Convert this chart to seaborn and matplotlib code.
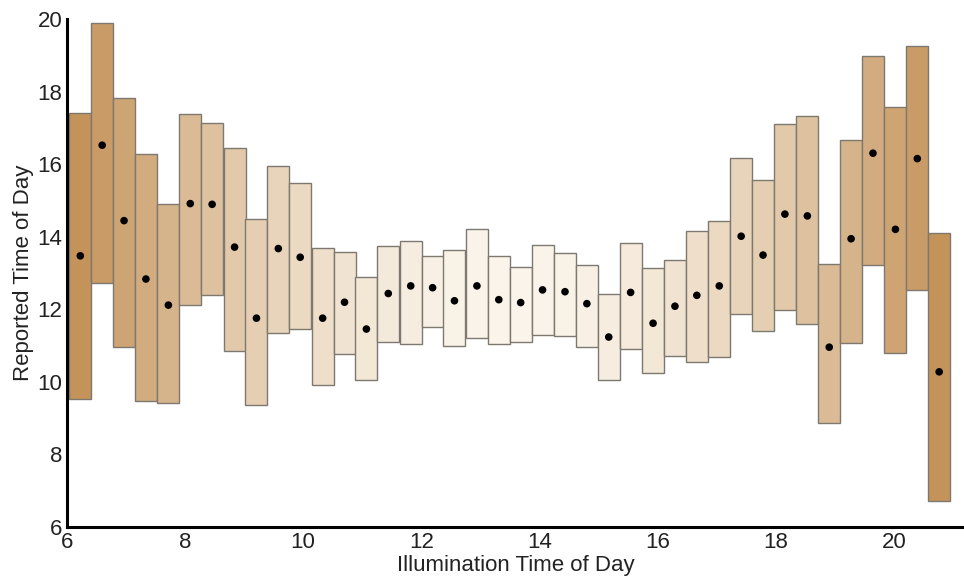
import numpy as np
import matplotlib
matplotlib.use("Agg")
import matplotlib.pyplot as plt
import seaborn as sns

# Illumination-time bins (hours), centres of 40 equal-width bins
bin_centers = [6.23, 6.60, 6.97, 7.34, 7.72, 8.09, 8.46, 8.84, 9.21, 9.58,
               9.95, 10.33, 10.70, 11.07, 11.44, 11.82, 12.19, 12.56, 12.94, 13.31,
               13.68, 14.05, 14.43, 14.80, 15.17, 15.54, 15.92, 16.29, 16.66, 17.04,
               17.41, 17.78, 18.15, 18.53, 18.90, 19.27, 19.64, 20.02, 20.39, 20.76]
bin_width = 0.3727

# Spread of reported times in each bin (upper / lower bounds) and mean
upper = [17.42, 19.88, 17.82, 16.29, 14.91, 17.37, 17.13, 16.45, 14.48, 15.95,
         15.47, 13.68, 13.58, 12.89, 13.73, 13.88, 13.47, 13.62, 14.22, 13.46,
         13.15, 13.78, 13.56, 13.22, 12.43, 13.83, 13.14, 13.35, 14.16, 14.44,
         16.16, 15.55, 17.10, 17.33, 13.24, 16.66, 18.98, 17.58, 19.25, 14.10]
lower = [9.51, 12.73, 10.96, 9.47, 9.42, 12.11, 12.38, 10.85, 9.35, 11.33,
         11.44, 9.92, 10.76, 10.04, 11.08, 11.05, 11.51, 10.97, 11.20, 11.05,
         11.08, 11.28, 11.26, 10.96, 10.04, 10.90, 10.24, 10.70, 10.53, 10.69,
         11.87, 11.41, 11.97, 11.59, 8.85, 11.06, 13.22, 10.78, 12.52, 6.70]
mean_reported = [13.47, 16.52, 14.44, 12.83, 12.11, 14.91, 14.89, 13.71, 11.75, 13.67,
                 13.43, 11.75, 12.19, 11.45, 12.43, 12.64, 12.59, 12.23, 12.64, 12.26,
                 12.18, 12.53, 12.48, 12.15, 11.23, 12.46, 11.61, 12.08, 12.38, 12.64,
                 14.01, 13.49, 14.62, 14.57, 10.95, 13.94, 16.30, 14.20, 16.15, 10.27]

x_ticks = [6, 8, 10, 12, 14, 16, 18, 20]
y_ticks = [6, 8, 10, 12, 14, 16, 18, 20]

sns.set_style("white")
plt.rcParams["font.family"] = ["Liberation Sans", "DejaVu Sans"]

fig = plt.figure(figsize=(9.64, 5.78), dpi=100)
ax = fig.add_axes([0.0692, 0.0888, 0.9308, 0.8783])

# Shade each bin by its distance from midday
cmap = sns.blend_palette(["#FAF4EA", "#C4935A"], as_cmap=True)
xc = np.array(bin_centers)
dist = np.abs(xc - 13.5) / 7.27
shade = np.clip(dist, 0, 1) ** 1.8
colors = [cmap(s) for s in shade]

lo = np.array(lower)
hi = np.array(upper)
ax.bar(xc, hi - lo, bottom=lo, width=bin_width, color=colors,
       edgecolor="#7d7970", linewidth=1.0, zorder=2)

sns.scatterplot(x=bin_centers, y=mean_reported, ax=ax, color="black",
                s=30, edgecolor="none", zorder=3, legend=False)

ax.set_xlim(6, 21.18)
ax.set_ylim(6, 20)
ax.set_xticks(x_ticks)
ax.set_yticks(y_ticks)
ax.set_xticklabels([str(t) for t in x_ticks])
ax.set_yticklabels([str(t) for t in y_ticks])

for side in ["top", "right"]:
    ax.spines[side].set_visible(False)
for side in ["left", "bottom"]:
    ax.spines[side].set_linewidth(2.2)
    ax.spines[side].set_color("black")

ax.tick_params(axis="both", direction="in", length=6, width=2, colors="black",
               labelsize=16, labelcolor="#222222")
ax.tick_params(axis="x", pad=4)
ax.tick_params(axis="y", pad=3)

ax.set_xlabel("Illumination Time of Day", fontsize=16, color="#222222", labelpad=1)
ax.set_ylabel("Reported Time of Day", fontsize=16, color="#222222", labelpad=3)

fig.savefig("out.png", dpi=100)
